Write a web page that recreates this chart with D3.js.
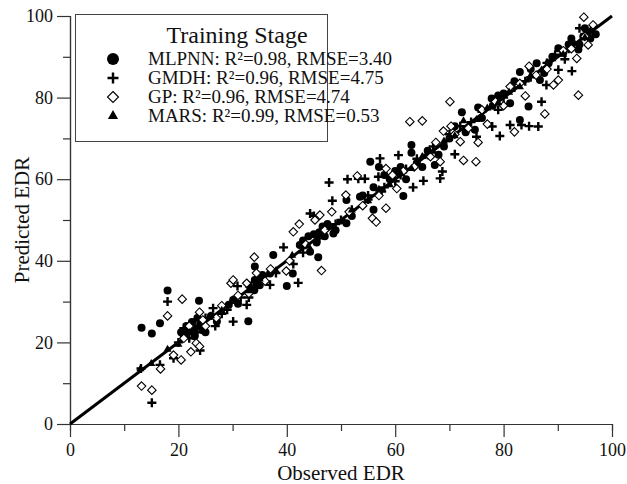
<!doctype html>
<html lang='en'>
<head>
    <meta charset='UTF-8'>
    <title>Training Stage</title>
    <script src='https://d3js.org/d3.v7.min.js'></script>
    <style>
        html, body {
            margin: 0;
            background: #fff;
        }
        svg text {
            font-family: "Liberation Serif", "Times New Roman", serif;
            fill: #111;
        }
    </style>
</head>
<body>
    <div class='chart'></div>
    <script>
        /* Observed / predicted pairs */
        const mlpnn = [
            [13.2, 23.6], [15.1, 22.2], [16.6, 24.7], [18.0, 32.7], [20.5, 22.5], [21.5, 24.0],
            [22.0, 23.0], [22.5, 25.0], [23.0, 21.5], [23.8, 30.2], [24.0, 24.5], [24.5, 23.0],
            [25.0, 22.5], [27.1, 25.1], [29.3, 29.2], [30.1, 30.4], [31.0, 29.5], [32.9, 25.2],
            [34.1, 35.3], [34.0, 32.8], [34.1, 38.6], [35.0, 34.0], [36.9, 36.9], [37.5, 41.4],
            [40.0, 33.8], [41.1, 36.9], [42.4, 43.9], [44.3, 42.2], [45.8, 40.9], [44.0, 46.0],
            [45.0, 46.5], [46.0, 47.0], [47.0, 46.0], [48.6, 46.7], [46.6, 48.4], [51.0, 49.2],
            [51.0, 54.9], [53.5, 55.7], [56.0, 52.5], [55.4, 64.3], [57.0, 63.0], [58.0, 61.0],
            [61.5, 55.9], [60.0, 62.0], [62.0, 60.0], [63.0, 68.4], [63.0, 66.5], [64.0, 64.0],
            [65.0, 63.0], [67.3, 63.5], [68.0, 66.0], [70.0, 70.0], [72.3, 76.4], [74.7, 72.1],
            [75.3, 77.6], [76.0, 75.0], [77.8, 79.8], [79.0, 80.5], [81.2, 78.6], [83.0, 74.5],
            [83.0, 86.3], [84.6, 77.8], [86.1, 88.4], [86.7, 84.3], [88.3, 88.4], [90.1, 92.1],
            [91.0, 91.0], [92.0, 93.0], [93.8, 91.8], [94.7, 95.0], [95.5, 96.0], [96.0, 94.5],
            [95.0, 97.0], [97.0, 95.5], [21.0, 21.5], [22.8, 22.8], [23.5, 26.0], [26.0, 26.5],
            [33.0, 34.0], [35.5, 36.5], [43.0, 45.0], [45.5, 44.5], [47.5, 49.0], [49.0, 47.5],
            [52.0, 51.0], [54.0, 56.0], [56.0, 58.0], [59.0, 60.0], [61.0, 63.0], [66.0, 67.0],
            [69.0, 68.0], [71.0, 73.0], [73.0, 71.5], [78.0, 78.0], [80.0, 81.0], [82.0, 84.0],
            [85.0, 87.0], [87.5, 86.0], [89.0, 90.0], [92.5, 94.5], [94.0, 93.0]
        ];
        const gmdh = [
            [13.1, 13.6], [15.1, 5.2], [16.6, 14.5], [18.0, 30.0], [19.1, 16.1], [20.0, 20.0],
            [21.0, 23.5], [22.0, 21.0], [23.0, 24.0], [24.0, 18.0], [26.4, 28.4], [26.8, 24.0],
            [28.0, 27.0], [30.1, 25.1], [30.9, 33.8], [32.6, 29.2], [33.0, 31.0], [35.0, 36.0],
            [36.9, 34.1], [39.4, 43.3], [41.2, 39.2], [42.1, 34.6], [44.3, 51.6], [45.0, 51.0],
            [47.8, 59.2], [48.4, 54.7], [50.0, 50.0], [51.2, 60.0], [53.2, 60.1], [54.4, 60.1],
            [56.9, 60.6], [57.2, 65.1], [55.0, 56.0], [58.0, 58.0], [60.6, 65.9], [61.0, 61.0],
            [63.3, 58.0], [65.2, 59.6], [68.3, 60.2], [68.7, 61.9], [66.0, 66.0], [71.0, 66.1],
            [70.0, 71.0], [75.0, 70.4], [77.9, 72.9], [79.3, 70.6], [79.0, 77.0], [81.2, 73.3],
            [83.3, 73.3], [84.7, 73.0], [86.4, 72.9], [87.0, 79.0], [87.9, 83.1], [85.0, 85.0],
            [90.1, 86.8], [91.3, 89.4], [92.6, 86.5], [93.0, 93.0], [95.0, 95.5], [96.0, 96.0],
            [94.0, 97.0], [21.5, 22.5], [23.5, 22.5], [25.0, 26.0], [29.0, 28.0], [31.5, 31.0],
            [34.0, 33.5], [38.0, 37.0], [43.0, 42.0], [46.0, 45.5], [49.0, 49.0], [52.0, 52.5],
            [55.0, 55.0], [57.5, 57.0], [60.0, 59.5], [62.0, 62.5], [64.0, 65.0], [67.0, 68.0],
            [72.0, 73.0], [74.0, 74.0], [76.0, 76.5], [80.0, 80.0], [82.0, 82.5], [84.0, 84.0],
            [88.0, 88.5], [89.5, 90.5], [92.0, 92.0]
        ];
        const gp = [
            [13.2, 9.3], [15.1, 8.3], [16.7, 13.5], [18.0, 26.5], [19.1, 16.9], [20.5, 15.7],
            [20.7, 30.6], [22.3, 17.7], [23.3, 19.8], [23.9, 19.0], [23.9, 27.4], [25.0, 24.0],
            [28.0, 29.0], [29.7, 34.5], [30.1, 35.3], [32.6, 34.5], [34.0, 40.9], [34.4, 37.0],
            [36.0, 35.0], [39.9, 37.5], [41.2, 47.1], [42.3, 49.0], [45.2, 50.0], [46.1, 51.2],
            [46.4, 37.6], [48.3, 52.0], [50.9, 56.1], [53.0, 60.8], [55.8, 50.4], [56.5, 49.5],
            [58.3, 62.6], [58.3, 52.9], [60.3, 57.7], [62.7, 74.1], [65.0, 74.3], [68.3, 64.3],
            [68.9, 71.8], [70.1, 79.0], [70.3, 73.0], [72.0, 69.2], [72.6, 64.6], [74.9, 64.3],
            [75.3, 69.0], [77.0, 73.5], [81.2, 82.7], [82.0, 71.6], [84.0, 80.4], [84.7, 87.7],
            [87.6, 76.0], [89.2, 83.1], [90.1, 84.3], [93.5, 89.6], [93.8, 80.6], [95.6, 92.9],
            [94.8, 99.7], [96.5, 97.8], [21.0, 21.0], [22.0, 24.0], [24.5, 25.5], [27.0, 26.0],
            [31.0, 31.5], [33.0, 32.0], [37.0, 38.0], [40.5, 40.0], [43.5, 44.0], [47.0, 47.5],
            [51.5, 52.0], [54.0, 53.5], [57.0, 56.0], [59.5, 61.0], [61.5, 62.0], [63.5, 63.0],
            [66.5, 65.5], [67.5, 69.0], [71.0, 71.0], [73.5, 72.5], [76.0, 77.0], [78.5, 79.0],
            [80.0, 78.0], [83.0, 83.5], [86.0, 85.5], [88.0, 87.0], [91.0, 91.5], [92.5, 92.0],
            [95.0, 95.0]
        ];
        const mars = [
            [13.0, 13.5], [15.0, 14.8], [18.0, 18.3], [20.0, 19.5], [22.0, 22.4], [24.0, 23.6],
            [26.0, 26.5], [28.0, 27.8], [30.0, 30.4], [33.0, 32.6], [35.0, 35.5], [38.0, 37.6],
            [41.0, 41.3], [44.0, 43.6], [46.0, 46.5], [48.0, 48.2], [50.0, 49.6], [52.0, 52.4],
            [55.0, 54.7], [57.0, 57.5], [59.0, 58.6], [61.0, 61.4], [63.0, 62.6], [65.0, 65.5],
            [67.0, 66.8], [69.0, 69.3], [71.0, 70.6], [72.6, 74.3], [75.0, 74.6], [77.0, 77.4],
            [79.0, 78.7], [81.0, 81.3], [83.0, 82.6], [85.0, 85.4], [87.0, 86.7], [89.0, 89.5],
            [91.0, 90.6], [93.0, 93.4], [95.0, 94.7], [96.0, 96.3]
        ];

        const majorTicks = [0, 20, 40, 60, 80, 100];
        const minorTicks = [10, 30, 50, 70, 90];
        const legendTitle = 'Training Stage';
        const legendRows = [
            { name: 'MLPNN', r2: '0.98', rmse: '3.40', shape: 'circle' },
            { name: 'GMDH', r2: '0.96', rmse: '4.75', shape: 'plus' },
            { name: 'GP', r2: '0.96', rmse: '4.74', shape: 'diamond' },
            { name: 'MARS', r2: '0.99', rmse: '0.53', shape: 'triangle' }
        ];

        const width = 627;
        const height = 484;

        const svg = d3.select('.chart')
            .append('svg')
            .attr('width', width)
            .attr('height', height);

        const x = d3.scaleLinear().domain([0, 100]).range([70, 612]);
        const y = d3.scaleLinear().domain([0, 100]).range([424, 16]);

        // axes: major ticks with labels, minor ticks without
        const axisColor = '#333';

        function drawAxis(axis, g) {
            g.call(axis);
            g.select('.domain').attr('stroke', axisColor).attr('stroke-width', 1.2);
            g.selectAll('.tick line').attr('stroke', axisColor).attr('stroke-width', 1.2);
            g.selectAll('.tick text')
                .style('font-family', '"Liberation Serif", serif')
                .style('font-size', '18px')
                .attr('fill', '#111');
        }

        drawAxis(d3.axisBottom(x).tickValues(minorTicks).tickSize(7).tickFormat(''),
            svg.append('g').attr('transform', 'translate(0,' + y(0) + ')'));
        drawAxis(d3.axisBottom(x).tickValues(majorTicks).tickSize(13).tickSizeOuter(0).tickPadding(6),
            svg.append('g').attr('transform', 'translate(0,' + y(0) + ')'));
        drawAxis(d3.axisLeft(y).tickValues(minorTicks).tickSize(7).tickFormat(''),
            svg.append('g').attr('transform', 'translate(' + x(0) + ',0)'));
        drawAxis(d3.axisLeft(y).tickValues(majorTicks).tickSize(13).tickSizeOuter(0).tickPadding(4),
            svg.append('g').attr('transform', 'translate(' + x(0) + ',0)'));

        // axis titles
        svg.append('text')
            .attr('x', (x(0) + x(100)) / 2)
            .attr('y', 480)
            .attr('text-anchor', 'middle')
            .style('font-size', '21px')
            .text('Observed EDR');

        svg.append('text')
            .attr('transform', 'translate(29,' + (y(0) + y(100)) / 2 + ') rotate(-90)')
            .attr('text-anchor', 'middle')
            .style('font-size', '21px')
            .text('Predicted EDR');

        // 1:1 line
        svg.append('line')
            .attr('x1', x(0)).attr('y1', y(0))
            .attr('x2', x(100)).attr('y2', y(100))
            .attr('stroke', '#000')
            .attr('stroke-width', 3);

        // marker makers
        function marker(sel, shape, s) {
            if (shape === 'circle') {
                sel.append('circle').attr('r', s / 2).attr('fill', '#000');
            } else if (shape === 'plus') {
                sel.append('path')
                    .attr('d', 'M' + (-s / 2) + ',0H' + (s / 2) + 'M0,' + (-s / 2) + 'V' + (s / 2))
                    .attr('stroke', '#000')
                    .attr('stroke-width', 2.4)
                    .attr('fill', 'none');
            } else if (shape === 'diamond') {
                const h = s / 2;
                sel.append('path')
                    .attr('d', 'M0,' + (-h) + 'L' + h + ',0L0,' + h + 'L' + (-h) + ',0Z')
                    .attr('stroke', '#000')
                    .attr('stroke-width', 1.1)
                    .attr('fill', '#fff');
            } else {
                sel.append('path')
                    .attr('d', d3.symbol(d3.symbolTriangle, s * s * 0.45)())
                    .attr('fill', '#000');
            }
        }

        const series = [
            { data: mlpnn, shape: 'circle', size: 8 },
            { data: gmdh, shape: 'plus', size: 9 },
            { data: gp, shape: 'diamond', size: 8.5 },
            { data: mars, shape: 'triangle', size: 8 }
        ];

        series.forEach((s) => {
            svg.append('g')
                .selectAll('g')
                .data(s.data)
                .join('g')
                .attr('transform', (d) => 'translate(' + x(d[0]) + ',' + y(d[1]) + ')')
                .each(function () { marker(d3.select(this), s.shape, s.size); });
        });

        // legend
        const legend = svg.append('g');
        legend.append('rect')
            .attr('x', 75.5).attr('y', 14.5)
            .attr('width', 252).attr('height', 127)
            .attr('fill', '#fff')
            .attr('stroke', '#444')
            .attr('stroke-width', 1);

        legend.append('text')
            .attr('x', 237).attr('y', 43)
            .attr('text-anchor', 'middle')
            .style('font-size', '24px')
            .text(legendTitle);

        const legendSizes = { circle: 12, plus: 11, diamond: 11, triangle: 10 };
        legendRows.forEach((row, i) => {
            const cy = 59 + i * 19;
            const g = legend.append('g').attr('transform', 'translate(113,' + cy + ')');
            marker(g, row.shape, legendSizes[row.shape]);
            legend.append('text')
                .attr('x', 148).attr('y', cy + 6)
                .style('font-size', '19px')
                .text(row.name + ': R\u00b2=' + row.r2 + ', RMSE=' + row.rmse);
        });
    </script>
</body>
</html>
